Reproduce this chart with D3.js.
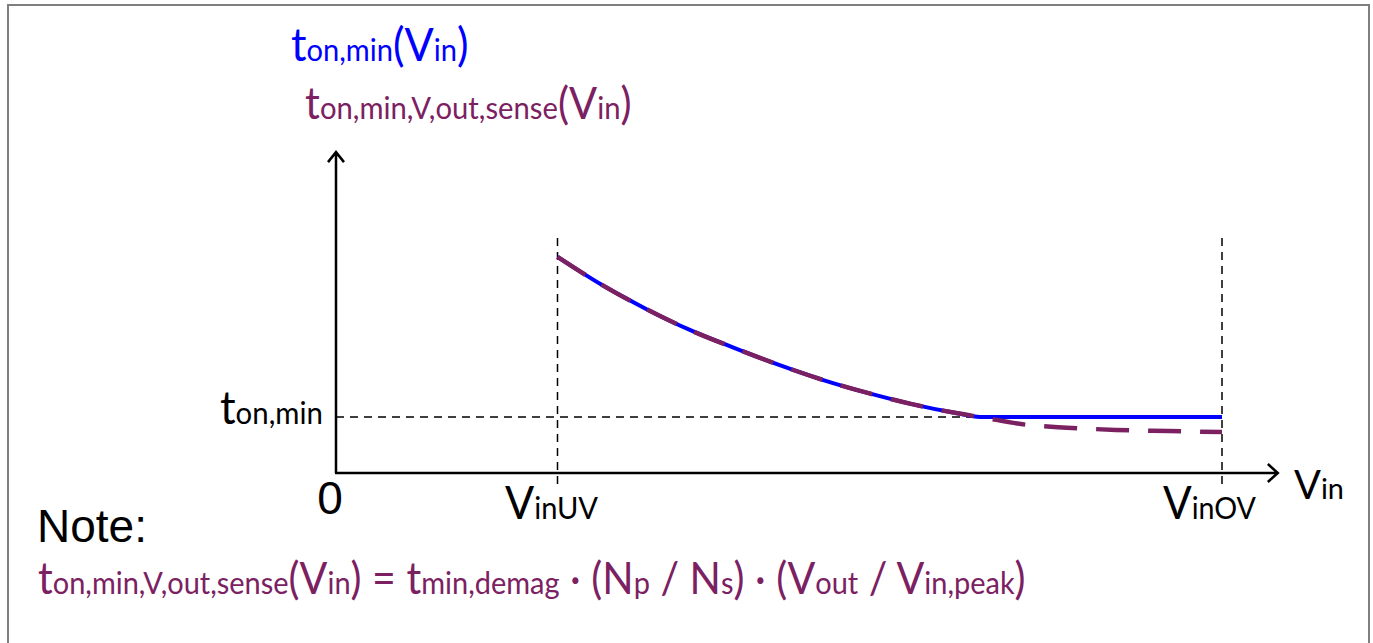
<!DOCTYPE html>
<html>
<head>
<meta charset="utf-8">
<script src="https://cdn.jsdelivr.net/npm/d3@7"></script>
<style>
  body { margin: 0; background: #fff; }
  svg { display: block; }
</style>
</head>
<body>
<svg id="chart" width="1373" height="643"></svg>
<script>
// values (Vin in % of VinOV, t in units of ton,min)
var vinUV = 25, vinOV = 100, tonMin = 1;
var vinCurve = [25, 30, 35, 40, 45, 50, 55, 60, 65, 70, 72.7];
var tonCurve = [3.86, 3.36, 2.93, 2.55, 2.23, 1.93, 1.66, 1.43, 1.23, 1.07, 1.0];
var vinFlat = [72.7, 100];
var tonFlat = [1, 1];
var vinSense = [78, 82.5, 88, 94, 100];
var tonSense = [0.86, 0.81, 0.77, 0.75, 0.73];

// rich labels: [text, isSubscript]
var titleBlue = [["t", 0], ["on,min", 1], ["(", 0], ["V", 0], ["in", 1], [")", 0]];
var titlePurple = [["t", 0], ["on,min,V,out,sense", 1], ["(", 0], ["V", 0], ["in", 1], [")", 0]];
var tonLabel = [["t", 0], ["on,min", 1]];
var uvLabel = [["V", 0], ["inUV", 1]];
var ovLabel = [["V", 0], ["inOV", 1]];
var vinLabel = [["V", 0], ["in", 1]];
var formula = [["t", 0], ["on,min,V,out,sense", 1], ["(", 0], ["V", 0], ["in", 1], [") = ", 0],
  ["t", 0], ["min,demag", 1], [" \u00b7 (N", 0], ["p", 1], [" / N", 0], ["s", 1], [") \u00b7 (V", 0],
  ["out", 1], [" / V", 0], ["in,peak", 1], [")", 0]];

var blue = "#0000ff", purple = "#7b2162";

var svg = d3.select("#chart");

var x = d3.scaleLinear().domain([0, 100]).range([336, 1222]);
var y = d3.scaleLinear().domain([0, 1]).range([473, 417]);

// frame
svg.append("path")
  .attr("d", "M8,650 V5 H1369 V650")
  .attr("fill", "none")
  .attr("stroke", "#7f7f7f")
  .attr("stroke-width", 2);

// helper lines
var dash = "8,6";
[vinUV, vinOV].forEach(function(v) {
  svg.append("line")
    .attr("x1", x(v)).attr("x2", x(v))
    .attr("y1", 238).attr("y2", 486)
    .attr("stroke", "#000").attr("stroke-width", 1.5)
    .attr("stroke-dasharray", dash);
});
svg.append("line")
  .attr("x1", x(0)).attr("x2", x(vinFlat[0]))
  .attr("y1", y(tonMin)).attr("y2", y(tonMin))
  .attr("stroke", "#000").attr("stroke-width", 1.5)
  .attr("stroke-dasharray", dash);

// axes with arrow heads
var axisTop = y(5.73), axisRight = x(106.3);
svg.append("path")
  .attr("d", "M" + x(0) + "," + y(0) + " V" + axisTop + " M" + (x(0) - 8) + "," + (axisTop + 10) +
    " L" + x(0) + "," + axisTop + " L" + (x(0) + 8) + "," + (axisTop + 10))
  .attr("fill", "none").attr("stroke", "#000").attr("stroke-width", 2.5);
svg.append("path")
  .attr("d", "M" + (x(0) - 1) + "," + y(0) + " H" + axisRight + " M" + (axisRight - 10) + "," + (y(0) - 9) +
    " L" + axisRight + "," + y(0) + " L" + (axisRight - 10) + "," + (y(0) + 9))
  .attr("fill", "none").attr("stroke", "#000").attr("stroke-width", 2.5);

// curves
var line = d3.line()
  .x(function(d) { return x(d[0]); })
  .y(function(d) { return y(d[1]); })
  .curve(d3.curveMonotoneX);

var curvePts = d3.zip(vinCurve, tonCurve);
svg.append("path")
  .attr("d", line(curvePts.concat(d3.zip(vinFlat, tonFlat).slice(1))))
  .attr("fill", "none").attr("stroke", blue).attr("stroke-width", 4);

svg.append("path")
  .attr("d", line(curvePts.concat(d3.zip(vinSense, tonSense))))
  .attr("fill", "none").attr("stroke", purple).attr("stroke-width", 4.5)
  .attr("stroke-dasharray", "33,19");

// text
function richText(px, py, parts, main, sub, color, width, family) {
  var t = svg.append("text")
    .attr("x", px).attr("y", py)
    .attr("fill", color)
    .style("font-family", family || "Lato")
    .attr("xml:space", "preserve");
  parts.forEach(function(p) {
    t.append("tspan").text(p[0]).attr("font-size", p[1] ? sub : main);
  });
  if (width) {
    var bb = t.node().getBBox();
    var k = width / bb.width;
    t.attr("transform", "translate(" + bb.x + ",0) scale(" + k + ",1) translate(" + (-bb.x) + ",0)");
  }
  return t;
}

richText(291, 61, titleBlue, 46, 31, blue, 178);
richText(305, 119, titlePurple, 44, 31, purple, 327);
richText(220, 424, tonLabel, 46, 31, "#000", 103);
richText(505, 519, uvLabel, 46, 31, "#000", 93);
richText(1163, 519, ovLabel, 46, 31, "#000", 93);
richText(1294, 499, vinLabel, 40, 29, "#000", 50);
richText(38, 594, formula, 44, 31, purple, 988);

svg.append("text")
  .attr("x", 330).attr("y", 514)
  .attr("text-anchor", "middle")
  .style("font-family", "Liberation Sans, Arial, sans-serif")
  .attr("font-size", 46)
  .text("0");

svg.append("text")
  .attr("x", 37).attr("y", 542)
  .style("font-family", "Liberation Sans, Arial, sans-serif")
  .attr("font-size", 46)
  .text("Note:");
</script>
</body>
</html>
